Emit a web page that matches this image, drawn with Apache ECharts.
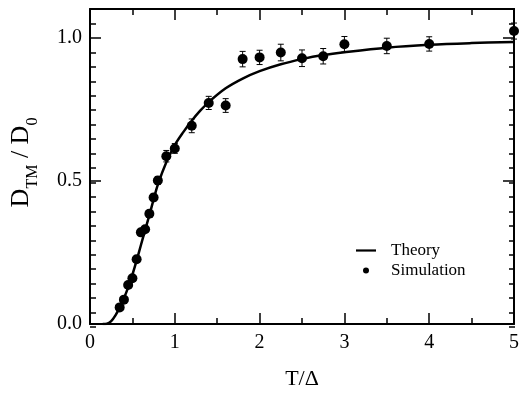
<!DOCTYPE html>
<html>
<head>
<meta charset="utf-8">
<script src="https://cdn.jsdelivr.net/npm/echarts@6/dist/echarts.min.js"></script>
<style>
  html, body { margin: 0; padding: 0; background: #fff; }
  #chart { width: 522px; height: 395px; }
</style>
</head>
<body>
<div id="chart"></div>
<script>
// Simulation results: T/Δ, D_TM/D_0 and the half-height of each error bar
const simX   = [0.35, 0.40, 0.45, 0.50, 0.55, 0.60, 0.65, 0.70, 0.75, 0.80, 0.90, 1.00,
                1.20, 1.40, 1.60, 1.80, 2.00, 2.25, 2.50, 2.75, 3.00, 3.50, 4.00, 5.00];
const simY   = [0.058, 0.085, 0.136, 0.160, 0.226, 0.320, 0.331, 0.385, 0.442, 0.501, 0.586, 0.613,
                0.692, 0.772, 0.763, 0.925, 0.931, 0.948, 0.928, 0.935, 0.977, 0.971, 0.978, 1.023];
const simErr = [0.008, 0.008, 0.008, 0.008, 0.010, 0.010, 0.010, 0.012, 0.012, 0.014, 0.020, 0.017,
                0.024, 0.023, 0.024, 0.027, 0.025, 0.029, 0.029, 0.027, 0.027, 0.027, 0.025, 0.028];

// Theory curve, sampled along T/Δ
const theoryX = [0.15, 0.20, 0.25, 0.30, 0.35, 0.40, 0.45, 0.50, 0.55, 0.60, 0.65, 0.70, 0.75, 0.80,
                 0.90, 1.00, 1.10, 1.20, 1.30, 1.40, 1.60, 1.80, 2.00, 2.25, 2.50, 2.75, 3.00,
                 3.50, 4.00, 4.50, 5.00];
const theoryY = [0.000, 0.001, 0.010, 0.030, 0.058, 0.090, 0.128, 0.172, 0.222, 0.275, 0.328, 0.380,
                 0.435, 0.487, 0.565, 0.625, 0.670, 0.710, 0.745, 0.775, 0.823, 0.857, 0.883, 0.907,
                 0.925, 0.939, 0.949, 0.965, 0.975, 0.981, 0.985];

const xLabels = ['0', '1', '2', '3', '4', '5'];
const yLabels = ['0.0', '0.5', '1.0'];

const FONT = 'Liberation Serif';
const INK = '#000';

const theoryData = theoryX.map((x, i) => [x, theoryY[i]]);
const simData = simX.map((x, i) => [x, simY[i]]);
const errData = simX.map((x, i) => [x, simY[i] - simErr[i], simY[i] + simErr[i]]);

const gridBox = { left: 90, right: 7, top: 9, bottom: 68 };

// Frame axes: ticks point into the plot, axes stay on their own edge
function tickAxis(extra) {
  return Object.assign({
    type: 'value',
    axisLine: { show: true, onZero: false, lineStyle: { color: INK, width: 2 } },
    axisTick: { show: true, inside: true, length: 11, lineStyle: { color: INK, width: 1.5 } },
    axisLabel: { show: false },
    splitLine: { show: false }
  }, extra);
}

const minorTicks = { show: true, splitNumber: 2, length: 6, lineStyle: { color: INK, width: 1.5 } };
const fineTicks = { show: true, inside: true, length: 6, lineStyle: { color: INK, width: 1.5 } };

const option = {
  animation: false,
  backgroundColor: '#fff',
  grid: [
    Object.assign({}, gridBox),
    Object.assign({}, gridBox)
  ],
  xAxis: [
    tickAxis({
      gridIndex: 0, position: 'bottom', min: 0, max: 5, interval: 1,
      minorTick: minorTicks,
      axisLabel: {
        show: true, margin: 9, color: INK, fontFamily: FONT, fontSize: 20,
        formatter: v => xLabels[Math.round(v)]
      },
      name: 'T/Δ', nameLocation: 'middle', nameGap: 44,
      nameTextStyle: { color: INK, fontFamily: FONT, fontSize: 22 }
    }),
    tickAxis({
      gridIndex: 0, position: 'top', min: 0, max: 5, interval: 1,
      minorTick: minorTicks
    }),
    { type: 'value', gridIndex: 1, min: 0, max: 5, show: false }
  ],
  yAxis: [
    tickAxis({
      gridIndex: 0, position: 'left', min: 0, max: 1.1, interval: 0.5,
      axisLabel: {
        show: true, margin: 8, color: INK, fontFamily: FONT, fontSize: 20,
        showMaxLabel: false,
        formatter: v => yLabels[Math.round(v / 0.5)] || ''
      },
      name: '{m|D}{s|TM}{m| / D}{s|0}', nameLocation: 'middle', nameGap: 49,
      nameTextStyle: {
        color: INK, fontFamily: FONT, padding: [0, 0, 0, 8],
        rich: {
          m: { fontFamily: FONT, fontSize: 26, color: INK, lineHeight: 40, verticalAlign: 'middle' },
          s: { fontFamily: FONT, fontSize: 16, color: INK, lineHeight: 16, verticalAlign: 'bottom' }
        }
      }
    }),
    tickAxis({ gridIndex: 0, position: 'right', min: 0, max: 1.1, interval: 0.5 }),
    tickAxis({
      gridIndex: 1, position: 'left', min: 0, max: 1.1, interval: 0.05,
      axisLine: { show: false, onZero: false }, axisTick: fineTicks
    }),
    tickAxis({
      gridIndex: 1, position: 'right', min: 0, max: 1.1, interval: 0.05,
      axisLine: { show: false, onZero: false }, axisTick: fineTicks
    })
  ],
  legend: {
    orient: 'vertical', left: 351, top: 237,
    itemWidth: 20, itemHeight: 6, itemGap: 3,
    textStyle: { color: INK, fontFamily: FONT, fontSize: 17, lineHeight: 16, padding: [0, 0, 0, 10] },
    data: [
      { name: 'Theory', icon: 'path://M0,0L20,0L20,2.2L0,2.2Z' },
      { name: 'Simulation', icon: 'circle' }
    ]
  },
  series: [
    {
      name: 'Theory', type: 'line', xAxisIndex: 0, yAxisIndex: 0,
      data: theoryData, smooth: 0.35, showSymbol: false,
      lineStyle: { color: INK, width: 2.5 }, itemStyle: { color: INK, opacity: 1 },
      z: 3
    },
    {
      name: 'errors', type: 'custom', xAxisIndex: 0, yAxisIndex: 0,
      data: errData, encode: { x: 0, y: [1, 2] },
      renderItem(params, api) {
        const x = api.value(0);
        const top = api.coord([x, api.value(2)]);
        const bot = api.coord([x, api.value(1)]);
        const cap = 3;
        const st = { stroke: INK, lineWidth: 1 };
        return {
          type: 'group',
          children: [
            { type: 'line', shape: { x1: top[0], y1: top[1], x2: bot[0], y2: bot[1] }, style: st },
            { type: 'line', shape: { x1: top[0] - cap, y1: top[1], x2: top[0] + cap, y2: top[1] }, style: st },
            { type: 'line', shape: { x1: bot[0] - cap, y1: bot[1], x2: bot[0] + cap, y2: bot[1] }, style: st }
          ]
        };
      },
      z: 4
    },
    {
      name: 'Simulation', type: 'scatter', xAxisIndex: 0, yAxisIndex: 0,
      data: simData, symbol: 'circle', symbolSize: 10,
      itemStyle: { color: INK, opacity: 1 }, z: 5
    }
  ]
};

const chart = echarts.init(document.getElementById('chart'), null, { renderer: 'canvas' });
chart.setOption(option);
</script>
</body>
</html>
